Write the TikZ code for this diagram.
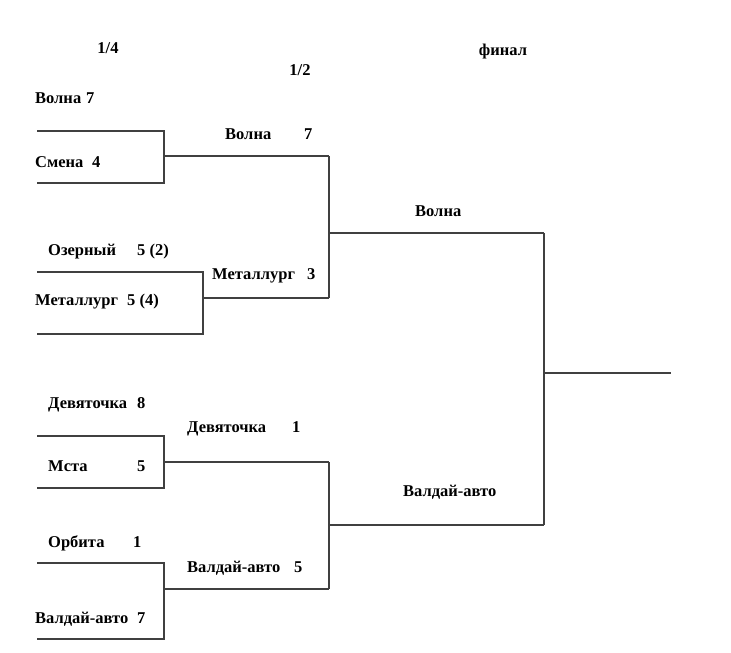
\documentclass[tikz,border=0pt]{standalone}
\usepackage{fontspec}
\setmainfont{Liberation Serif}
\begin{document}
\begin{tikzpicture}[x=1pt,y=-1pt,
  bline/.style={draw=black!75,line width=1.1pt},
  lbl/.style={anchor=base west,inner sep=0pt,font=\fontsize{16.5}{18}\selectfont\bfseries},
  hdr/.style={anchor=center,inner sep=0pt,font=\fontsize{16.5}{18}\selectfont\bfseries}]
\useasboundingbox (0,0) rectangle (731,653);
% headers
\node[hdr] (h4) at (108,48) {1/4};
\node[hdr] (h2) at (300,70) {1/2};
\node[hdr] (hf) at (503,52) {финал};
% bracket coordinates
\coordinate (a1) at (37,131); \coordinate (a2) at (164,131);
\coordinate (a3) at (37,183); \coordinate (a4) at (164,183);
\coordinate (ao) at (164,156);
\coordinate (b1) at (37,272); \coordinate (b2) at (203,272);
\coordinate (b3) at (37,334); \coordinate (b4) at (203,334);
\coordinate (bo) at (203,298);
\coordinate (c1) at (37,436); \coordinate (c2) at (164,436);
\coordinate (c3) at (37,488); \coordinate (c4) at (164,488);
\coordinate (co) at (164,462);
\coordinate (d1) at (37,563); \coordinate (d2) at (164,563);
\coordinate (d3) at (37,639); \coordinate (d4) at (164,639);
\coordinate (do) at (164,589);
\coordinate (s1) at (329,156); \coordinate (s2) at (329,298);
\coordinate (so) at (329,233);
\coordinate (t1) at (329,462); \coordinate (t2) at (329,589);
\coordinate (to) at (329,525);
\coordinate (f1) at (544,233); \coordinate (f2) at (544,525);
\coordinate (fo) at (544,373); \coordinate (fe) at (671,373);
% quarterfinals
\draw[bline] (a1) -- (a2) -- (a4) -- (a3);
\draw[bline] (ao) -- (s1);
\draw[bline] (b1) -- (b2) -- (b4) -- (b3);
\draw[bline] (bo) -- (s2);
\draw[bline] (c1) -- (c2) -- (c4) -- (c3);
\draw[bline] (co) -- (t1);
\draw[bline] (d1) -- (d2) -- (d4) -- (d3);
\draw[bline] (do) -- (t2);
% semifinals
\draw[bline] (s1) -- (s2);
\draw[bline] (so) -- (f1);
\draw[bline] (t1) -- (t2);
\draw[bline] (to) -- (f2);
% final
\draw[bline] (f1) -- (f2);
\draw[bline] (fo) -- (fe);
% labels quarterfinals
\node[lbl] (n1) at (35,103) {Волна}; \node[lbl] (n1s) at (86,103) {7};
\node[lbl] (n2) at (35,167) {Смена}; \node[lbl] (n2s) at (92,167) {4};
\node[lbl] (n3) at (48,255) {Озерный}; \node[lbl] (n3s) at (137,255) {5 (2)};
\node[lbl] (n4) at (35,305) {Металлург}; \node[lbl] (n4s) at (127,305) {5 (4)};
\node[lbl] (n5) at (48,408) {Девяточка}; \node[lbl] (n5s) at (137,408) {8};
\node[lbl] (n6) at (48,471) {Мста}; \node[lbl] (n6s) at (137,471) {5};
\node[lbl] (n7) at (48,547) {Орбита}; \node[lbl] (n7s) at (133,547) {1};
\node[lbl] (n8) at (35,623) {Валдай-авто}; \node[lbl] (n8s) at (137,623) {7};
% labels semifinals
\node[lbl] (m1) at (225,139) {Волна}; \node[lbl] (m1s) at (304,139) {7};
\node[lbl] (m2) at (212,279) {Металлург}; \node[lbl] (m2s) at (307,279) {3};
\node[lbl] (m3) at (187,432) {Девяточка}; \node[lbl] (m3s) at (292,432) {1};
\node[lbl] (m4) at (187,572) {Валдай-авто}; \node[lbl] (m4s) at (294,572) {5};
% labels final
\node[lbl] (q1) at (415,216) {Волна};
\node[lbl] (q2) at (403,496) {Валдай-авто};
\end{tikzpicture}
\end{document}
